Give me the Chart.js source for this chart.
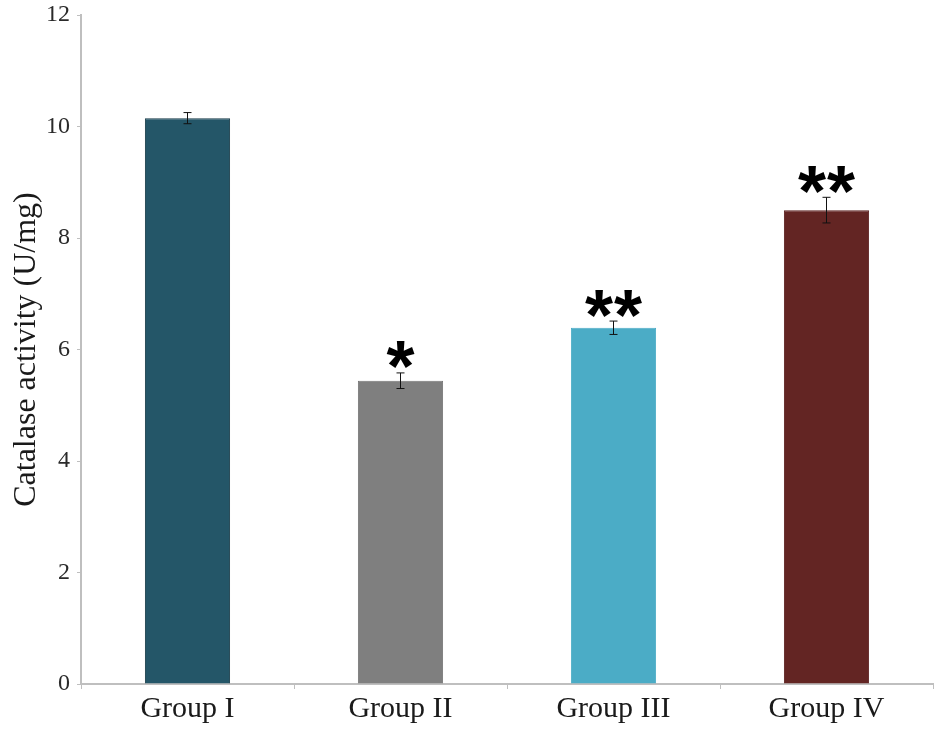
<!DOCTYPE html>
<html>
<head>
<meta charset="utf-8">
<script src="https://cdn.jsdelivr.net/npm/chart.js@4.4.0/dist/chart.umd.min.js"></script>
<style>
  html, body { margin: 0; padding: 0; background: #fff; }
  #wrap { width: 945px; height: 739px; }
</style>
</head>
<body>
<div id="wrap"><canvas id="catalase-chart" width="945" height="739"></canvas></div>
<script>
const groups = ['Group I', 'Group II', 'Group III', 'Group IV'];
const catalase = [10.15, 5.44, 6.39, 8.5];
const errors = [0.1, 0.14, 0.12, 0.23];
const marks = [0, 1, 2, 2]; // number of significance stars
const barColors = ['#245668', '#7f7f7f', '#4bacc6', '#632523'];
const edgeColors = ['#163a47', '#777777', '#4bacc6', '#5a1f1e'];
const yTicks = [0, 2, 4, 6, 8, 10, 12];

const serif = '"Liberation Serif", "Times New Roman", serif';

// error bars + significance stars, placed through the chart scales
const errorBars = {
  id: 'errorBars',
  afterDatasetsDraw(chart) {
    const { ctx, scales: { x, y } } = chart;
    ctx.save();
    catalase.forEach((v, i) => {
      const cx = x.getPixelForValue(i);
      const top = y.getPixelForValue(v + errors[i]);
      const bot = y.getPixelForValue(v - errors[i]);
      ctx.strokeStyle = '#111';
      ctx.lineWidth = 1;
      ctx.beginPath();
      ctx.moveTo(cx, top); ctx.lineTo(cx, bot);
      ctx.moveTo(cx - 4, top); ctx.lineTo(cx + 4, top);
      ctx.moveTo(cx - 4, bot); ctx.lineTo(cx + 4, bot);
      ctx.stroke();
      if (marks[i]) {
        ctx.fillStyle = '#000';
        ctx.font = 'bold 72px "Liberation Sans", Arial, sans-serif';
        ctx.textAlign = 'center';
        ctx.textBaseline = 'alphabetic';
        const m = ctx.measureText('*');
        const mid = top - 18;
        const base = mid + (m.actualBoundingBoxAscent - m.actualBoundingBoxDescent) / 2;
        const step = 29;
        for (let k = 0; k < marks[i]; k++) {
          const sx = cx + (k - (marks[i] - 1) / 2) * step;
          ctx.fillText('*', sx, base);
        }
      }
    });
    ctx.restore();
  }
};

new Chart(document.getElementById('catalase-chart').getContext('2d'), {
  type: 'bar',
  data: {
    labels: groups,
    datasets: [{
      data: catalase,
      backgroundColor: barColors,
      borderColor: edgeColors,
      borderWidth: 1,
      categoryPercentage: 1,
      barPercentage: 0.4
    }]
  },
  options: {
    responsive: false,
    animation: false,
    layout: { padding: { top: 0, right: 12, left: 0, bottom: 0 } },
    plugins: {
      legend: { display: false },
      tooltip: { enabled: false }
    },
    scales: {
      x: {
        grid: { display: true, drawOnChartArea: false, tickLength: 5, color: '#bfbfbf' },
        border: { color: '#bfbfbf', width: 2 },
        ticks: { color: '#1a1a1a', font: { family: serif, size: 30 }, padding: 2 },
        afterFit(scale) { scale.height = 55; }
      },
      y: {
        min: 0,
        max: 12,
        afterBuildTicks(scale) { scale.ticks = yTicks.map(v => ({ value: v })); },
        grid: { display: true, drawOnChartArea: false, tickLength: 4, color: '#bfbfbf' },
        border: { color: '#bfbfbf', width: 2 },
        ticks: { color: '#2a2a2a', font: { family: serif, size: 24 }, padding: 7 },
        title: {
          display: true,
          text: 'Catalase activity (U/mg)',
          color: '#1a1a1a',
          font: { family: serif, size: 32 },
          padding: { top: 7, bottom: 0 }
        },
        afterFit(scale) {
          scale.width = 81;
          scale.paddingTop = 15;
        }
      }
    }
  },
  plugins: [errorBars]
});
</script>
</body>
</html>
